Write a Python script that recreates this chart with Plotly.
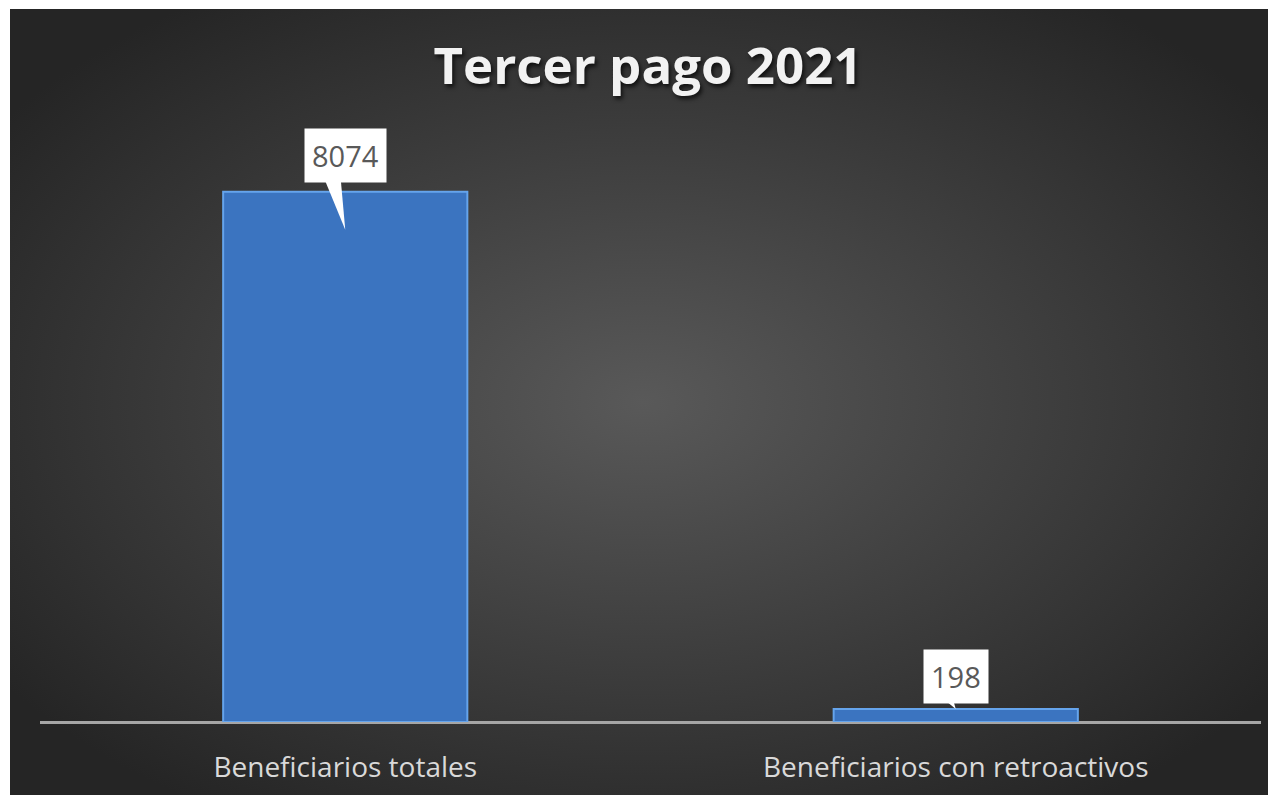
import plotly.graph_objects as go

categories = ["Beneficiarios totales", "Beneficiarios con retroactivos"]
values = [8074, 198]
title_text = "Tercer pago 2021"
y_max = 9000

# page body adds an 8px margin, so the figure is sized/offset accordingly
W, H = 1268, 787
ML, MR, MT, MB = 32, 15, 123, 73
plot_w = W - ML - MR
plot_h = H - MT - MB
units_per_px = y_max / plot_h
xs = list(range(len(categories)))
x_per_px = 2.0 / plot_w  # range [-0.5, 1.5]

BG_X0, BG_Y0 = 2, 1
bg_w, bg_h = W - BG_X0, H - BG_Y0
bg_svg = (
    "data:image/svg+xml;utf8,"
    f"<svg xmlns='http://www.w3.org/2000/svg' width='{bg_w}' height='{bg_h}' viewBox='0 0 {bg_w} {bg_h}' preserveAspectRatio='none'>"
    "<defs><radialGradient id='g' cx='50%' cy='50%' r='62%'>"
    "<stop offset='0%' stop-color='%23595959'/>"
    "<stop offset='100%' stop-color='%23252525'/>"
    "</radialGradient></defs>"
    f"<rect width='{bg_w}' height='{bg_h}' fill='url(%23g)'/></svg>"
)

fig = go.Figure()

fig.add_trace(go.Bar(
    x=xs, y=values, width=0.4,
    marker=dict(color="#3b74c0", line=dict(color="#65a4ec", width=2)),
    hoverinfo="skip",
))

# callout pointers (positions derived from the data values)
tip_offsets = [-38, 0]   # px relative to value
base_offsets = [18, 14]  # px above value where the box bottom sits
base_dx = [(-23, -5), (-17, -4)]
label_shift = [9, 5]
for i, v in enumerate(values):
    by = v + base_offsets[i] * units_per_px
    ty = v + tip_offsets[i] * units_per_px
    fig.add_trace(go.Scatter(
        x=[xs[i] + base_dx[i][0] * x_per_px, xs[i] + base_dx[i][1] * x_per_px, xs[i], xs[i] + base_dx[i][0] * x_per_px],
        y=[by, by, ty, by],
        mode="lines", fill="toself", fillcolor="white",
        line=dict(color="white", width=0), hoverinfo="skip", showlegend=False,
    ))

for i, v in enumerate(values):
    fig.add_annotation(
        x=xs[i], y=v, text=str(v), showarrow=False,
        yanchor="bottom", yshift=label_shift[i],
        bgcolor="white", borderpad=7,
        font=dict(family="Open Sans", size=29, color="#595959"),
    )

fig.add_layout_image(
    source=bg_svg, xref="paper", yref="paper",
    x=(BG_X0 - ML) / plot_w, y=(H - MB - BG_Y0) / plot_h,
    sizex=bg_w / plot_w, sizey=bg_h / plot_h,
    xanchor="left", yanchor="top", sizing="stretch", layer="below",
)

fig.update_layout(
    width=W, height=H,
    margin=dict(l=ML, r=MR, t=MT, b=MB, autoexpand=False),
    paper_bgcolor="white",
    plot_bgcolor="rgba(0,0,0,0)",
    showlegend=False,
    title=dict(
        text="<b>" + title_text + "</b>",
        x=640 / W, xanchor="center",
        y=1 - 58 / H, yanchor="middle",
        font=dict(family="Open Sans", size=51, color="#f2f2f2",
                  shadow="2px 3px 4px rgba(0,0,0,0.7)"),
    ),
    xaxis=dict(
        range=[-0.5, 1.5], tickvals=xs, ticktext=categories,
        showgrid=False, zeroline=False, showline=False, ticks="",
        tickfont=dict(family="Open Sans", size=28, color="#d9d9d9"),
        ticklabelstandoff=26, automargin=False,
        fixedrange=True,
    ),
    yaxis=dict(
        range=[0, y_max], showgrid=False, zeroline=True,
        zerolinecolor="#a6a6a6", zerolinewidth=3,
        showticklabels=False, showline=False, ticks="",
        automargin=False,
        fixedrange=True,
    ),
)

fig.write_html("out.html")
